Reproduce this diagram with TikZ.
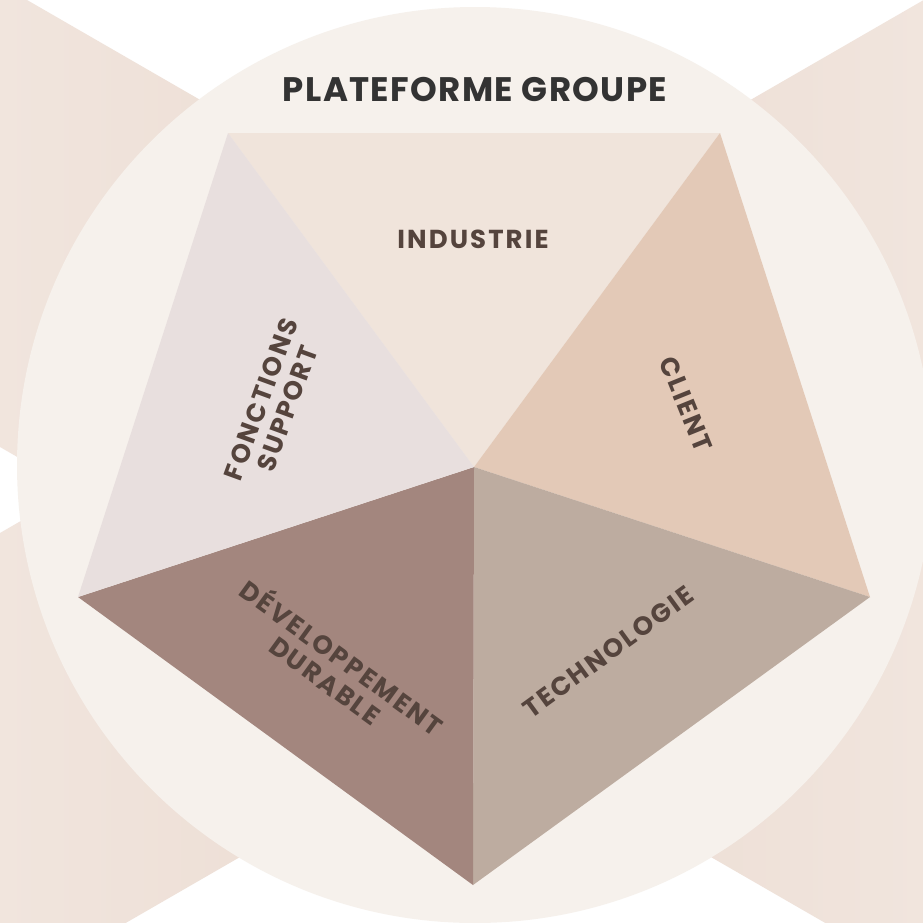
\documentclass[tikz,border=0pt]{standalone}
\usepackage{fontspec}
\setmainfont{Poppins}
\newfontfamily\lblfont{Poppins}[LetterSpace=8]
\newfontfamily\ttlfont{Poppins}[LetterSpace=4]
\definecolor{bgstripL}{HTML}{F2E7E0}
\definecolor{bgstripD}{HTML}{EBDBD1}
\definecolor{disc}{HTML}{F6F1EC}
\definecolor{cInd}{HTML}{F0E4DB}
\definecolor{cCli}{HTML}{E3C9B7}
\definecolor{cTech}{HTML}{BDACA0}
\definecolor{cDev}{HTML}{A3867E}
\definecolor{cFon}{HTML}{E8DFDE}
\definecolor{txt}{HTML}{55443D}
\definecolor{ttl}{HTML}{333333}
\tikzset{
  strip/.style={left color=bgstripL, right color=bgstripL, middle color=bgstripD},
  lbl/.style={text=txt, font=\lblfont\bfseries\fontsize{26}{28}\selectfont, align=center, inner sep=0pt},
  titlelbl/.style={text=ttl, font=\ttlfont\bfseries\fontsize{34}{38}\selectfont, inner sep=0pt}
}
\begin{document}
\begin{tikzpicture}[x=1pt,y=1pt]
\useasboundingbox (0,0) rectangle (923,-922);
\fill[white] (0,0) rectangle (923,-922);
\begin{scope}
\clip (0,0) rectangle (923,-922);
% crossing background strips
\shade[strip] (-100,73.3) -- (1023,-574.7) -- (1023,-1037) -- (-100,-389.3) -- cycle;
\shade[strip] (-100,-590.7) -- (1023,57.3) -- (1023,-405.2) -- (-100,-1053.2) -- cycle;
% disc
\fill[disc] (475,-465) circle (458);
\end{scope}
% pentagon
\coordinate (C) at (474,-467);
\coordinate (TL) at (228,-133);
\coordinate (TR) at (720,-133);
\coordinate (R) at (870,-597);
\coordinate (B) at (473,-885);
\coordinate (L) at (78,-597);
\fill[cInd] (TL) -- (TR) -- (C) -- cycle;
\fill[cCli] (TR) -- (R) -- (C) -- cycle;
\fill[cTech] (R) -- (B) -- (C) -- cycle;
\fill[cDev] (B) -- (L) -- (C) -- cycle;
\fill[cFon] (L) -- (TL) -- (C) -- cycle;
% labels
\node[titlelbl] (title) at (475,-90) {PLATEFORME GROUPE};
\node[lbl] (ind) at (473,-239) {INDUSTRIE};
\node[lbl, rotate=-68] (cli) at (686,-404) {CLIENT};
\node[lbl, rotate=36] (tech) at (608,-652) {TECHNOLOGIE};
\node[lbl, rotate=-36] (dev) at (335,-667) {DÉVELOPPEMENT\\DURABLE};
\node[lbl, rotate=70] (fon) at (274,-404) {FONCTIONS\\SUPPORT};
\end{tikzpicture}
\end{document}
